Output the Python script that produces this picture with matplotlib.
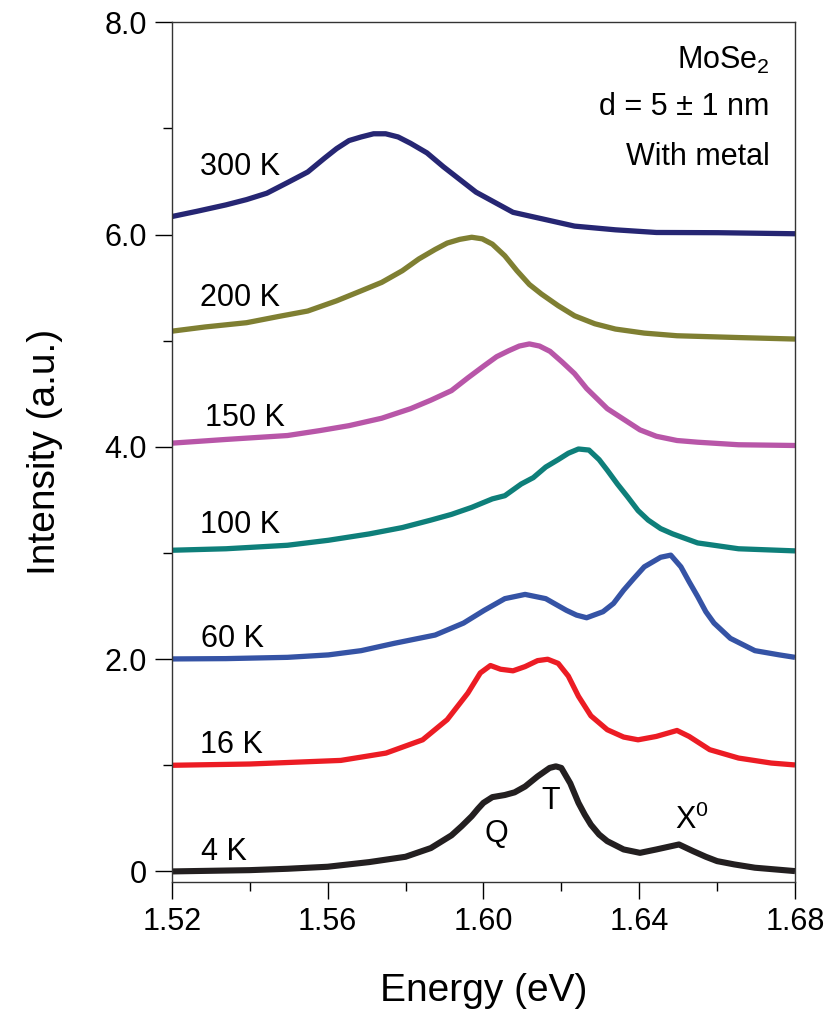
import matplotlib.pyplot as plt
from matplotlib.ticker import MultipleLocator, FixedLocator

plt.rcParams['font.family'] = ['Liberation Sans', 'DejaVu Sans']
plt.rcParams['mathtext.fontset'] = 'custom'
plt.rcParams['mathtext.rm'] = 'Liberation Sans'

# spectra (energy in eV, offset intensity in a.u.)
e_4k = [1.52, 1.54, 1.5497, 1.56, 1.5707, 1.58, 1.5865, 1.5918, 1.5944, 1.597, 1.5986, 1.60,
        1.6023, 1.6055, 1.608, 1.6107, 1.6139, 1.617, 1.6186, 1.62, 1.6223, 1.6244, 1.626,
        1.6276, 1.6297, 1.6318, 1.636, 1.6402, 1.6444, 1.6502, 1.6539, 1.6571, 1.66,
        1.6644, 1.6697, 1.68]
i_4k = [0.0, 0.012, 0.025, 0.044, 0.088, 0.138, 0.22, 0.34, 0.426, 0.52, 0.59, 0.646,
        0.70, 0.72, 0.745, 0.80, 0.895, 0.975, 0.99, 0.975, 0.83, 0.646, 0.536,
        0.44, 0.348, 0.285, 0.207, 0.175, 0.207, 0.254, 0.19, 0.138, 0.097,
        0.066, 0.035, 0.003]

e_16k = [1.52, 1.54, 1.5634, 1.575, 1.5844, 1.5907, 1.596, 1.5992, 1.6018, 1.6044, 1.6076,
         1.6107, 1.6139, 1.6165, 1.6192, 1.6218, 1.6244, 1.6276, 1.6318, 1.636, 1.6397,
         1.6444, 1.6497, 1.6528, 1.6581, 1.6655, 1.6739, 1.68]
i_16k = [1.0, 1.012, 1.046, 1.115, 1.24, 1.43, 1.68, 1.87, 1.94, 1.905, 1.89,
         1.93, 1.986, 1.999, 1.96, 1.84, 1.65, 1.466, 1.335, 1.266, 1.24,
         1.272, 1.328, 1.272, 1.147, 1.068, 1.021, 1.003]

e_60k = [1.52, 1.5339, 1.5497, 1.5602, 1.5686, 1.5771, 1.5876, 1.5949, 1.6002, 1.6055,
         1.6107, 1.616, 1.6213, 1.6239, 1.6265, 1.6307, 1.6334, 1.636, 1.6386, 1.6413,
         1.6455, 1.6481, 1.6507, 1.6528, 1.655, 1.6571, 1.6592, 1.6634, 1.6697, 1.676, 1.68]
i_60k = [2.002, 2.005, 2.017, 2.04, 2.08, 2.149, 2.227, 2.34, 2.46, 2.57,
         2.61, 2.57, 2.46, 2.415, 2.39, 2.447, 2.525, 2.65, 2.76, 2.87,
         2.96, 2.98, 2.87, 2.73, 2.59, 2.447, 2.34, 2.196, 2.08, 2.04, 2.017]

e_100k = [1.52, 1.5339, 1.5497, 1.5602, 1.5707, 1.5792, 1.5865, 1.5918, 1.597, 1.6023,
          1.6055, 1.6097, 1.6128, 1.616, 1.6192, 1.6218, 1.6244, 1.6271, 1.6297, 1.6318,
          1.6344, 1.637, 1.6397, 1.6423, 1.6455, 1.6486, 1.655, 1.6655, 1.68]
i_100k = [3.026, 3.04, 3.073, 3.12, 3.18, 3.24, 3.31, 3.364, 3.43, 3.51,
          3.54, 3.65, 3.71, 3.81, 3.88, 3.94, 3.98, 3.97, 3.88, 3.78,
          3.65, 3.53, 3.40, 3.31, 3.23, 3.18, 3.095, 3.04, 3.02]

e_150k = [1.52, 1.5339, 1.5497, 1.5581, 1.5655, 1.5739, 1.5813, 1.5865, 1.5918, 1.596,
          1.6002, 1.6034, 1.6065, 1.6092, 1.6118, 1.6144, 1.6171, 1.6202, 1.6234, 1.6265,
          1.6318, 1.636, 1.6402, 1.6444, 1.6497, 1.655, 1.6655, 1.68]
i_150k = [4.035, 4.07, 4.107, 4.154, 4.2, 4.27, 4.36, 4.44, 4.53, 4.65,
          4.765, 4.85, 4.906, 4.95, 4.97, 4.95, 4.90, 4.80, 4.69, 4.55,
          4.36, 4.26, 4.16, 4.1, 4.06, 4.044, 4.02, 4.013]

e_200k = [1.52, 1.5286, 1.5392, 1.5476, 1.5549, 1.5623, 1.5686, 1.5739, 1.5792, 1.5834,
          1.5876, 1.5907, 1.5939, 1.597, 1.5997, 1.6023, 1.6055, 1.6086, 1.6118, 1.6149,
          1.6192, 1.6234, 1.6286, 1.6339, 1.6413, 1.6497, 1.6655, 1.68]
i_200k = [5.09, 5.13, 5.17, 5.23, 5.28, 5.376, 5.47, 5.55, 5.66, 5.77,
          5.86, 5.92, 5.955, 5.975, 5.96, 5.91, 5.80, 5.66, 5.53, 5.44,
          5.33, 5.235, 5.16, 5.11, 5.072, 5.047, 5.03, 5.016]

e_300k = [1.52, 1.5265, 1.5339, 1.5392, 1.5444, 1.5497, 1.5549, 1.5592, 1.5623, 1.5655,
          1.5686, 1.5718, 1.5749, 1.5781, 1.5813, 1.5855, 1.5897, 1.5939, 1.5981, 1.6023,
          1.6076, 1.6149, 1.6234, 1.6339, 1.6444, 1.6602, 1.68]
i_300k = [6.17, 6.22, 6.28, 6.33, 6.39, 6.49, 6.59, 6.72, 6.81, 6.886,
          6.92, 6.95, 6.95, 6.92, 6.86, 6.77, 6.64, 6.52, 6.40, 6.316,
          6.21, 6.15, 6.08, 6.045, 6.02, 6.018, 6.008]

temps = ['4 K', '16 K', '60 K', '100 K', '150 K', '200 K', '300 K']
energies = [e_4k, e_16k, e_60k, e_100k, e_150k, e_200k, e_300k]
intens = [i_4k, i_16k, i_60k, i_100k, i_150k, i_200k, i_300k]
colors = ['#231f20', '#ec1c24', '#3553a5', '#0e7f7a', '#b856a8', '#7f7f32', '#262673']
label_y = [0.103, 1.12, 2.118, 3.19, 4.20, 5.33, 6.566]
label_x = [1.5275, 1.5272, 1.5275, 1.5272, 1.5285, 1.5272, 1.5272]

fig = plt.figure(figsize=(8.26, 10.15), dpi=100)
ax = fig.add_axes([0.208, 0.131, 0.7545, 0.847])

for e, i, c in zip(energies, intens, colors):
    lw = 4.4 if c == '#231f20' else 3.8
    ax.plot(e, i, color=c, lw=lw, solid_joinstyle='round', solid_capstyle='butt')

for t, lx, ly in zip(temps, label_x, label_y):
    ax.text(lx, ly, t, fontsize=22, ha='left', va='baseline')

# peak labels
ax.text(1.6002, 0.275, 'Q', fontsize=22, ha='left', va='baseline')
ax.text(1.615, 0.589, 'T', fontsize=22, ha='left', va='baseline')
ax.text(1.6492, 0.395, r'X$^\mathregular{0}$', fontsize=22, ha='left', va='baseline')

ax.text(1.6735, 7.563, r'MoSe$_\mathregular{2}$', fontsize=22, ha='right', va='baseline')
ax.text(1.6735, 7.13, 'd = 5 ± 1 nm', fontsize=22, ha='right', va='baseline')
ax.text(1.6735, 6.66, 'With metal', fontsize=22, ha='right', va='baseline')

ax.set_xlim(1.52, 1.68)
ax.set_ylim(-0.1, 8.0)
ax.xaxis.set_major_locator(FixedLocator([1.52, 1.56, 1.60, 1.64, 1.68]))
ax.xaxis.set_minor_locator(MultipleLocator(0.02))
ax.set_xticklabels(['1.52', '1.56', '1.60', '1.64', '1.68'])
ax.yaxis.set_major_locator(FixedLocator([0, 2, 4, 6, 8]))
ax.yaxis.set_minor_locator(FixedLocator([1, 3, 5, 7]))
ax.set_yticklabels(['0', '2.0', '4.0', '6.0', '8.0'])

ax.tick_params(which='major', direction='out', length=12, width=1, labelsize=22, pad=6,
               top=False, right=False)
ax.tick_params(which='minor', direction='out', length=6.5, width=1, top=False, right=False)
for s in ax.spines.values():
    s.set_linewidth(1.0)
    s.set_color('#333333')

ax.set_xlabel('Energy (eV)', fontsize=28, labelpad=26)
ax.set_ylabel('Intensity (a.u.)', fontsize=28, labelpad=30)

fig.savefig('out.png', dpi=100)
